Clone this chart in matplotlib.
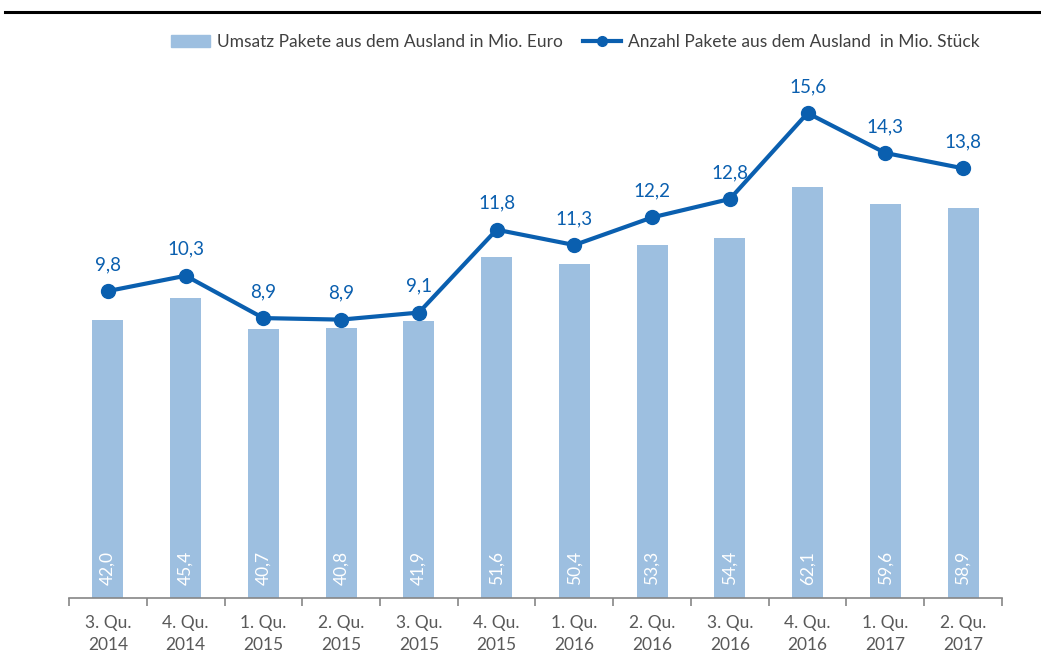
import numpy as np
import matplotlib.pyplot as plt
from matplotlib.lines import Line2D

# Daten
quartale = ["3. Qu.\n2014", "4. Qu.\n2014", "1. Qu.\n2015", "2. Qu.\n2015",
            "3. Qu.\n2015", "4. Qu.\n2015", "1. Qu.\n2016", "2. Qu.\n2016",
            "3. Qu.\n2016", "4. Qu.\n2016", "1. Qu.\n2017", "2. Qu.\n2017"]
umsatz = [42.0, 45.4, 40.7, 40.8, 41.9, 51.6, 50.4, 53.3, 54.4, 62.1, 59.6, 58.9]
anzahl = [9.8, 10.3, 8.92, 8.87, 9.1, 11.8, 11.3, 12.2, 12.8, 15.6, 14.3, 13.8]

label_umsatz = "Umsatz Pakete aus dem Ausland in Mio. Euro"
label_anzahl = "Anzahl Pakete aus dem Ausland  in Mio. Stück"

farbe_balken = "#9DBFE0"
farbe_linie = "#0A5FAF"
grau = "#595959"

plt.rcParams["font.family"] = ["Lato", "DejaVu Sans"]

fig = plt.figure(figsize=(10.41, 6.62), dpi=100)
ax = fig.add_axes([0.0663, 0.0967, 0.8962, 0.8127])
ax2 = ax.twinx()

x = np.arange(len(quartale))
ax.bar(x, umsatz, width=0.4, color=farbe_balken, zorder=2)
for xi, v in zip(x, umsatz):
    ax.text(xi, 2.0, f"{v:.1f}".replace(".", ","), rotation=90, ha="center",
            va="bottom", color="white", fontsize=12.5)

ax2.plot(x, anzahl, color=farbe_linie, lw=3, marker="o", markersize=10, zorder=3)
for xi, v in zip(x, anzahl):
    ax2.annotate(f"{v:.1f}".replace(".", ","), (xi, v), xytext=(0, 13),
                 textcoords="offset points", ha="center", va="bottom",
                 color=farbe_linie, fontsize=13.5)

ax.set_xlim(-0.5, len(quartale) - 0.5)
ax.set_ylim(0, 81.3)
ax2.set_ylim(-0.2, 17.33)

ax.set_xticks(x)
ax.set_xticklabels(quartale, color=grau, fontsize=12.5, linespacing=1.45)
ax.tick_params(axis="x", which="major", length=0, pad=12)
ax.set_xticks(np.arange(-0.5, len(quartale), 1), minor=True)
ax.tick_params(axis="x", which="minor", length=6, color="#868686", width=1.2)
ax.set_yticks([])
ax2.set_yticks([])

for a in (ax, ax2):
    for s in ["top", "right", "left", "bottom"]:
        a.spines[s].set_visible(False)
ax.spines["bottom"].set_visible(True)
ax.spines["bottom"].set_color("#868686")
ax.spines["bottom"].set_linewidth(1.2)

# Legende
handles = [plt.Rectangle((0, 0), 1, 1, color=farbe_balken),
           Line2D([0], [0], color=farbe_linie, lw=3, marker="o", markersize=7)]
leg = fig.legend(handles, [label_umsatz, label_anzahl], loc="center",
                 bbox_to_anchor=(0.553, 0.936), ncol=2, frameon=False,
                 fontsize=12.5, handlelength=2.2, columnspacing=1.2,
                 handletextpad=0.4)
for t in leg.get_texts():
    t.set_color("#404040")

# Linie oben
fig.add_artist(Line2D([0.005, 1.0], [0.982, 0.982], color="black", lw=2.2,
                      transform=fig.transFigure))

fig.savefig("out.png", dpi=100)
